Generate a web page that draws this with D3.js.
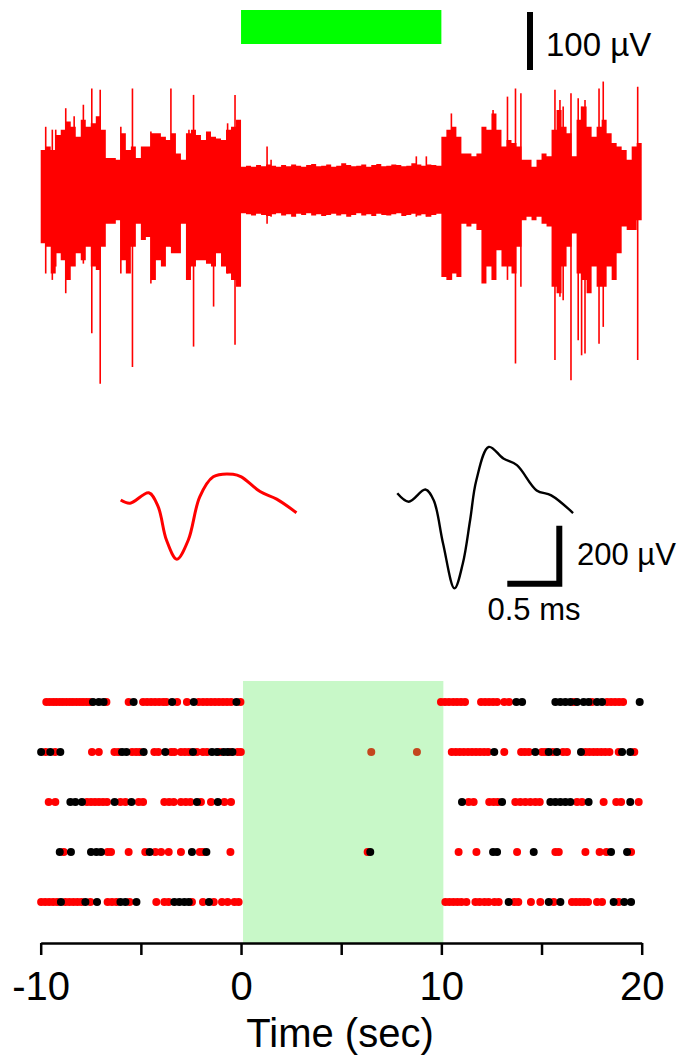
<!DOCTYPE html>
<html>
<head>
<meta charset="utf-8">
<script src="https://cdn.jsdelivr.net/npm/d3@7"></script>
<style>
  body { margin: 0; background: #fff; }
  svg { display: block; font-family: "Liberation Sans", Arial, sans-serif; }
</style>
</head>
<body>
<div id="chart"></div>
<script>
// ---------------- DATA ----------------
// stimulus window (sec)
var stimOn = 0, stimOff = 10;

// raw trace envelope, 0.25 s bins from -10 to 20 s (uV)
var binStart = d3.range(-10, 20, 0.25);
var envHi = [
  69, 75, 69, 95, 104, 118, 109, 92, 121, 109, 115, 127, 104, 55, 55, 52, 98, 69, 75, 55,
  75, 75, 98, 98, 92, 86, 98, 63, 52, 98, 104, 95, 86, 101, 92, 89, 86, 104, 109, 121,
  40, 42, 40, 43, 41, 44, 42, 40, 43, 41, 44, 42, 40, 43, 45, 41, 42, 44, 40, 42,
  46, 43, 41, 42, 44, 40, 43, 45, 41, 42, 44, 43, 41, 42, 46, 44, 42, 44, 43, 42,
  92, 104, 109, 92, 63, 63, 58, 63, 109, 104, 132, 104, 75, 86, 81, 75, 52, 52, 40, 52,
  63, 58, 104, 138, 109, 98, 58, 121, 144, 109, 92, 109, 121, 98, 81, 75, 69, 52, 75, 81
];
var envLo = [
  -92, -98, -144, -109, -121, -155, -132, -109, -121, -98, -132, -138, -98, -58, -58, -52, -121, -144, -98, -58,
  -86, -81, -155, -121, -132, -98, -109, -109, -58, -155, -132, -121, -121, -127, -132, -109, -132, -144, -155, -167,
  -40, -42, -44, -41, -43, -45, -42, -40, -44, -42, -46, -41, -43, -40, -44, -42, -45, -43, -41, -44,
  -42, -46, -43, -40, -44, -42, -45, -41, -43, -44, -42, -40, -45, -43, -41, -44, -42, -46, -43, -41,
  -150, -155, -144, -150, -58, -63, -58, -69, -161, -132, -155, -104, -132, -132, -144, -98, -52, -46, -52, -46,
  -58, -63, -167, -178, -132, -98, -75, -144, -155, -178, -132, -167, -167, -132, -155, -109, -63, -69, -69, -52
];

// large single excursions of the trace
var spikeTime = [-9.75, -9.42, -9.25, -8.75, -8.33, -7.87, -7.45, -7.03, -6.0, -5.42, -4.5, -3.5, -2.6, -2.37, -1.37, -0.67, -0.3,
  1.3, 1.5, 8.75, 9.25,
  10.5, 12.58, 13.3, 13.7, 13.97, 15.67, 15.92, 16.08, 16.47, 16.83, 17.0, 17.17, 17.87, 18.08, 19.8];
var spikeHi = [109, 104, 104, 141, 127, 147, 175, 173, 109, 175, 101, 175, 104, 164, 86, 115, 164,
  75, 52, 58, 58,
  132, 138, 161, 175, 167, 173, 155, 144, 167, 158, 144, 155, 175, 187, 178];
var spikeLo = [-144, -155, -132, -178, -121, -127, -247, -334, -144, -305, -161, -98, -155, -270, -201, -144, -267,
  -58, -46, -46, -46,
  -155, -155, -155, -299, -167, -293, -184, -190, -328, -259, -285, -282, -265, -236, -293];

// average spike waveforms (ms, uV)
var redWaveT = [0, 0.09, 0.27, 0.36, 0.44, 0.54, 0.65, 0.76, 0.89, 1.08, 1.16, 1.34, 1.5, 1.69];
var redWaveV = [0, -11, 25, -23, -138, -204, -138, 11, 80, 89, 80, 29, 3, -44];
var blackWaveT = [0, 0.11, 0.27, 0.35, 0.44, 0.55, 0.63, 0.70, 0.76, 0.88, 1.02, 1.15, 1.34, 1.48, 1.69];
var blackWaveV = [0, -29, 13, -24, -173, -328, -242, -93, 45, 160, 120, 97, 10, -7, -68];

// raster: spike times (sec) per trial
var trials = [1, 2, 3, 4, 5];
var redRaster = [
  [-9.72, -9.55, -9.38, -9.22, -9.05, -8.89, -8.72, -8.55, -8.39, -8.22, -8.05, -7.89, -7.72, -7.55, -6.72, -5.61, -4.89, -4.69, -4.49, -4.29, -4.09, -3.89, -3.73, -3.19, -2.70, -2.11, -1.90, -1.70, -1.50, -1.30, -1.10, -0.90, -0.70, -0.50, -0.03,
   9.98, 10.18, 10.38, 10.59, 10.78, 10.98, 11.18, 11.98, 12.18, 12.38, 12.58, 12.78, 13.14, 13.38, 16.61, 17.52, 18.27, 18.47, 18.67, 18.87, 19.07],
  [-9.75, -9.28, -7.44, -7.10, -6.32, -6.12, -5.44, -5.24, -5.06, -4.33, -4.13, -3.49, -3.33, -3.00, -2.80, -2.60, -2.20, -1.90, -1.70, -1.06, -0.57, -0.17, -0.01,
   10.52, 10.72, 10.92, 11.12, 11.33, 11.53, 11.73, 11.93, 12.13, 12.33, 13.14, 13.98, 14.17, 14.37, 15.02, 15.19, 15.57, 16.07, 16.27, 17.19, 17.39, 17.59, 17.78, 17.98, 18.18, 18.39, 18.85, 19.63],
  [-9.60, -9.27, -7.69, -7.49, -7.29, -7.09, -6.89, -6.69, -6.02, -5.77, -5.11, -4.89, -3.83, -3.59, -3.36, -3.00, -2.76, -2.53, -2.00, -1.50, -0.83, -0.50,
   11.36, 11.61, 12.39, 12.61, 12.81, 13.69, 13.94, 14.19, 14.44, 14.69, 14.91, 16.77, 17.02, 18.10, 18.73, 18.97, 19.85],
  [-8.85, -6.66, -6.49, -5.61, -4.78, -4.28, -3.99, -3.61, -3.00, -2.06, -1.90, -0.53, 6.32,
   10.86, 11.75, 13.78, 15.69, 15.86, 17.19, 17.90, 18.24, 19.47],
  [-9.98, -9.78, -9.58, -9.38, -9.18, -8.77, -8.57, -8.37, -8.17, -7.97, -7.52, -6.66, -6.44, -6.22, -5.56, -4.23, -3.83, -3.61, -2.45, -1.90, -1.36, -0.95, -0.67, -0.33, -0.12,
   10.20, 10.40, 10.60, 10.80, 11.00, 11.25, 11.70, 11.91, 12.15, 12.36, 12.65, 12.86, 13.64, 13.84, 14.47, 14.94, 15.61, 16.52, 16.72, 16.92, 17.12, 17.32, 17.77, 18.02, 18.85]
];
var blackRaster = [
  [-7.39, -7.10, -6.86, -5.36, -3.44, -2.36, -0.23,
   13.74, 14.03, 15.69, 15.94, 16.19, 16.44, 16.77, 17.10, 17.35, 17.77, 18.02, 19.90],
  [-9.98, -9.52, -9.02, -5.94, -5.72, -4.86, -3.78, -2.40, -1.45, -1.20, -0.87, -0.67, -0.43,
   12.64, 14.69, 15.36, 15.77, 16.97, 19.02, 19.43],
  [-8.52, -8.27, -7.94, -6.31, -5.47, -2.20, -1.16,
   11.03, 13.03, 15.44, 15.69, 15.94, 16.19, 16.44, 17.35, 19.43],
  [-9.05, -8.49, -7.49, -7.22, -6.99, -4.56, -2.45, -1.73, 6.45,
   12.58, 12.78, 14.61, 18.47, 19.27],
  [-8.99, -7.77, -7.19, -6.02, -5.77, -5.22, -3.33, -3.08, -2.83, -2.61, -1.60,
   13.36, 15.36, 15.94, 18.60, 19.13, 19.47]
];
// red and black units firing together (trial, time)
var bothTrial = [2, 2];
var bothTime = [6.50, 8.78];

var axisTicks = [-10, -5, 0, 5, 10, 15, 20];

// ---------------- CHART ----------------
var svg = d3.select("#chart").append("svg")
  .attr("width", 681)
  .attr("height", 1059);

var x = d3.scaleLinear().domain([-10, 20]).range([40.7, 641.7]);

// --- top: raw trace ---
var yTrace = d3.scaleLinear().domain([0, 100]).range([190, 132]);

svg.append("rect")
  .attr("x", x(stimOn))
  .attr("y", 10)
  .attr("width", x(stimOff) - x(stimOn))
  .attr("height", 34)
  .attr("fill", "#00ff00");

// 100 uV scale bar
svg.append("line")
  .attr("x1", 530).attr("x2", 530)
  .attr("y1", 12).attr("y2", 12 + (yTrace(0) - yTrace(100)))
  .attr("stroke", "#000")
  .attr("stroke-width", 6);
svg.append("text")
  .attr("x", 546)
  .attr("y", 56)
  .style("font-size", "33px")
  .text("100 µV");

var envData = binStart.map(function (t, i) { return { t: t, hi: envHi[i], lo: envLo[i] }; });
envData.push({ t: 20, hi: envHi[envHi.length - 1], lo: envLo[envLo.length - 1] });

var envArea = d3.area()
  .curve(d3.curveStepAfter)
  .x(function (d) { return x(d.t); })
  .y0(function (d) { return yTrace(d.lo); })
  .y1(function (d) { return yTrace(d.hi); });

svg.append("path")
  .datum(envData)
  .attr("d", envArea)
  .attr("fill", "#ff0000");

svg.selectAll(".spike")
  .data(spikeTime)
  .enter()
  .append("line")
  .attr("class", "spike")
  .attr("x1", function (d) { return x(d); })
  .attr("x2", function (d) { return x(d); })
  .attr("y1", function (d, i) { return yTrace(spikeHi[i]); })
  .attr("y2", function (d, i) { return yTrace(spikeLo[i]); })
  .attr("stroke", "#ff0000")
  .attr("stroke-width", 1.6);

// --- middle: waveforms ---
var wx = d3.scaleLinear().domain([0, 1]).range([0, 104]);
var wy = d3.scaleLinear().domain([0, 100]).range([0, -29]);

var waveLine = d3.line()
  .curve(d3.curveCatmullRom.alpha(0.5))
  .x(function (d) { return wx(d[0]); })
  .y(function (d) { return wy(d[1]); });

svg.append("g")
  .attr("transform", "translate(120.7,500)")
  .append("path")
  .datum(d3.zip(redWaveT, redWaveV))
  .attr("d", waveLine)
  .attr("fill", "none")
  .attr("stroke", "#ff0000")
  .attr("stroke-width", 3);

svg.append("g")
  .attr("transform", "translate(397.3,493.3)")
  .append("path")
  .datum(d3.zip(blackWaveT, blackWaveV))
  .attr("d", waveLine)
  .attr("fill", "none")
  .attr("stroke", "#000")
  .attr("stroke-width", 2.4);

// L shaped scale bar: 0.5 ms / 200 uV
var cornerX = 559.3, cornerY = 583.7;
svg.append("path")
  .attr("d", "M" + (cornerX - wx(0.5)) + "," + cornerY + "H" + cornerX + "V" + (cornerY + wy(200)))
  .attr("fill", "none")
  .attr("stroke", "#000")
  .attr("stroke-width", 6)
  .attr("stroke-linejoin", "miter");
svg.append("text")
  .attr("x", 577)
  .attr("y", 565)
  .style("font-size", "31px")
  .text("200 µV");
svg.append("text")
  .attr("x", 534)
  .attr("y", 620)
  .style("font-size", "31px")
  .style("text-anchor", "middle")
  .text("0.5 ms");

// --- bottom: raster ---
var axisY = 943;
var yRow = d3.scalePoint().domain(trials).range([702, 902]);

svg.append("rect")
  .attr("x", x(stimOn) + 2)
  .attr("y", 681)
  .attr("width", x(stimOff) - x(stimOn))
  .attr("height", axisY - 681)
  .attr("fill", "#c8f8c8");

function dotsFor(raster) {
  var out = [];
  raster.forEach(function (times, i) {
    times.forEach(function (t) { out.push({ trial: trials[i], t: t }); });
  });
  return out;
}

svg.append("g").selectAll("circle")
  .data(dotsFor(redRaster))
  .enter()
  .append("circle")
  .attr("cx", function (d) { return x(d.t); })
  .attr("cy", function (d) { return yRow(d.trial); })
  .attr("r", 4)
  .attr("fill", "#ff0000");

svg.append("g").selectAll("circle")
  .data(dotsFor(blackRaster))
  .enter()
  .append("circle")
  .attr("cx", function (d) { return x(d.t); })
  .attr("cy", function (d) { return yRow(d.trial); })
  .attr("r", 4)
  .attr("fill", "#000");

svg.append("g").selectAll("circle")
  .data(bothTime)
  .enter()
  .append("circle")
  .attr("cx", function (d) { return x(d); })
  .attr("cy", function (d, i) { return yRow(bothTrial[i]); })
  .attr("r", 4)
  .attr("fill", "#c4461e");

// x axis
var xAxis = svg.append("g")
  .attr("transform", "translate(0," + axisY + ")")
  .call(d3.axisBottom(x)
    .tickValues(axisTicks)
    .tickSize(12)
    .tickSizeOuter(0)
    .tickFormat(function (d) { return d % 10 === 0 ? String(d) : ""; }));

xAxis.select(".domain").attr("stroke-width", 2.5);
xAxis.selectAll(".tick line").attr("stroke-width", 2.5);
xAxis.selectAll(".tick text")
  .attr("y", 57)
  .attr("dy", 0)
  .attr("fill", "#000")
  .style("font-size", "40px")
  .style("font-family", "'Liberation Sans', Arial, sans-serif");

svg.append("text")
  .attr("x", 340)
  .attr("y", 1047)
  .style("font-size", "40px")
  .style("text-anchor", "middle")
  .text("Time (sec)");
</script>
</body>
</html>
